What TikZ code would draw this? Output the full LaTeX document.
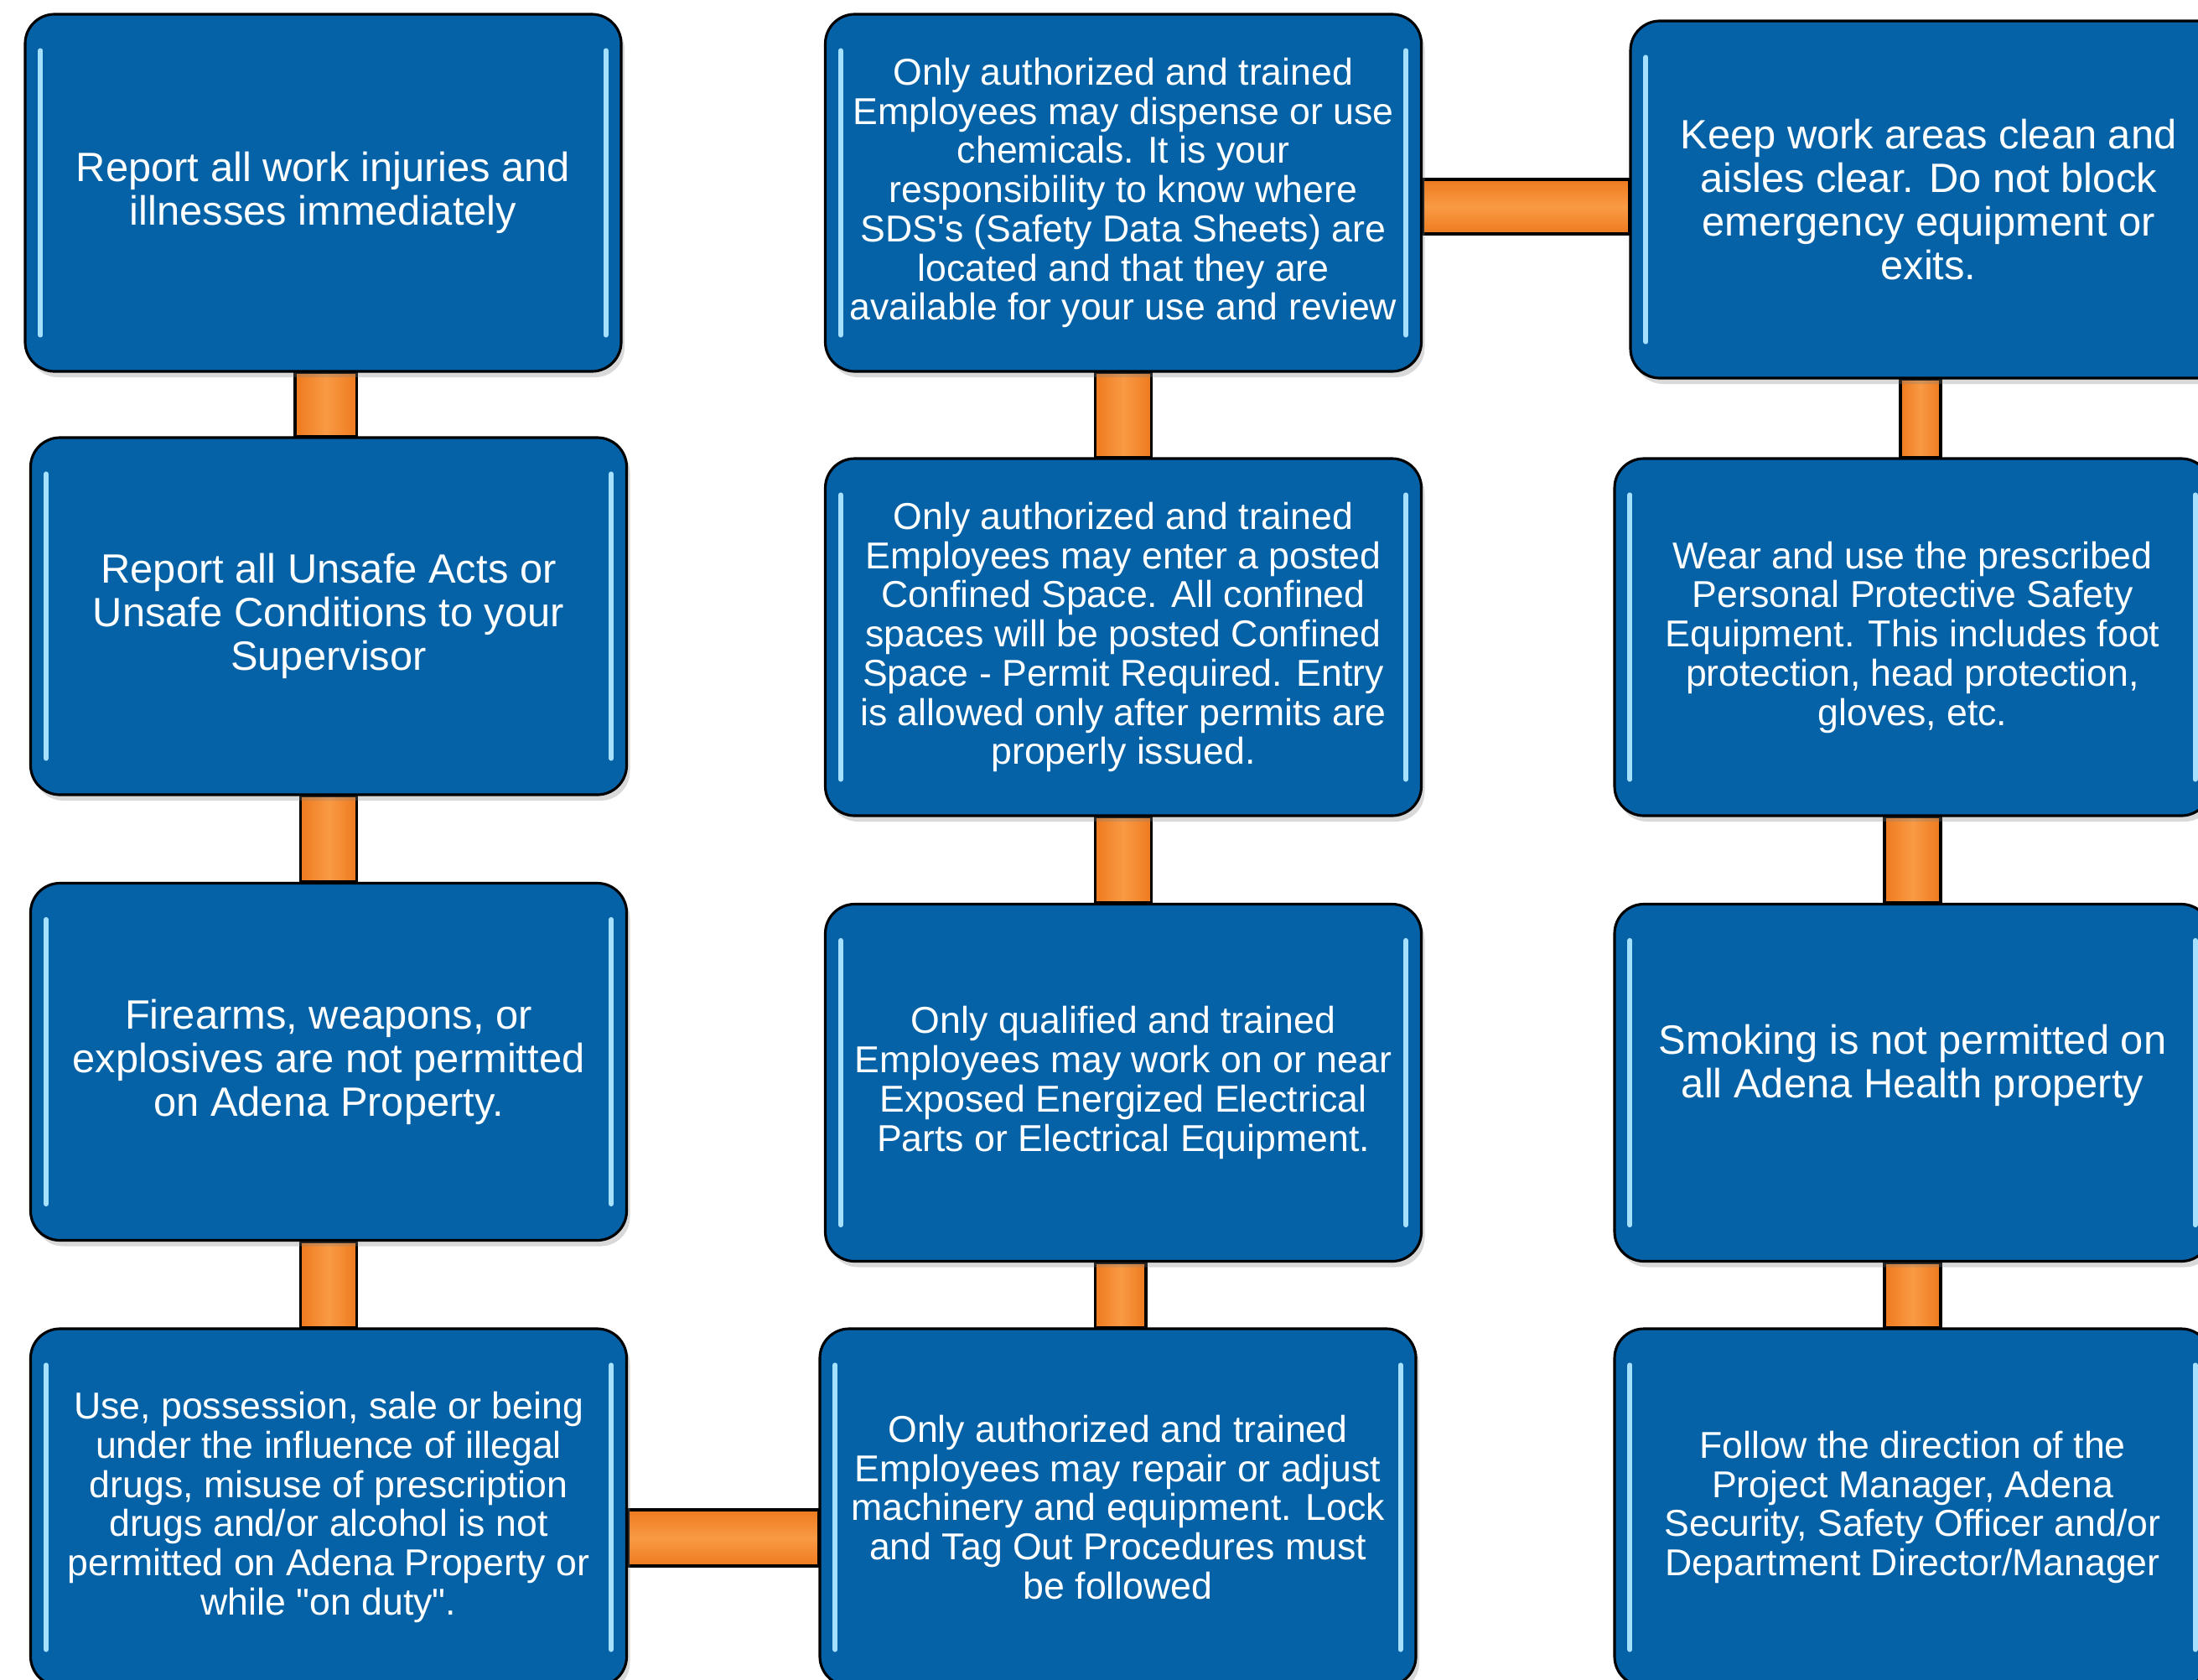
\documentclass[tikz,border=0pt]{standalone}
\usepackage{fontspec}
\setmainfont{Liberation Sans}[Ligatures=TeXOff]
\usepackage{tikz}
\usetikzlibrary{shadows,backgrounds}
\definecolor{ruleblue}{HTML}{0562A7}
\definecolor{barorange}{HTML}{EE7A1E}
\definecolor{barlight}{HTML}{F99A45}
\definecolor{glint}{HTML}{A6E0FF}
\tikzset{
  rulebox/.style={draw=black, line width=0.9pt, fill=ruleblue, rounded corners=0.35cm,
    minimum width=7.11cm, minimum height=4.26cm, inner sep=0pt, align=center, text=white,
    drop shadow={shadow xshift=0.04cm, shadow yshift=-0.07cm, opacity=0.3}},
  bigtext/.style={font=\fontsize{13.9}{14.8}\selectfont},
  smalltext/.style={font=\fontsize{12.7}{13.3}\selectfont},
  vbar/.style={draw=black, line width=0.9pt, left color=barorange, right color=barorange, middle color=barlight},
  hbar/.style={draw=black, line width=0.9pt, top color=barorange, bottom color=barorange, middle color=barlight},
  shine/.style={line width=1.7pt, color=glint, line cap=round}
}
% light strips along the inner side edges
\newcommand{\gloss}[1]{
  \draw[shine] ([xshift=0.2cm,yshift=-0.45cm]#1.north west) -- ([xshift=0.2cm,yshift=0.45cm]#1.south west);
  \draw[shine] ([xshift=-0.2cm,yshift=-0.45cm]#1.north east) -- ([xshift=-0.2cm,yshift=0.45cm]#1.south east);
}

\begin{document}
\begin{tikzpicture}
\useasboundingbox (0,0) rectangle (26.22,-20.03);
\clip (0,0) rectangle (26.22,-20.03);

\node[rulebox,bigtext] (injuries) at (3.855,-2.30)
     {Report all work injuries and\\illnesses immediately};
\node[rulebox,bigtext] (unsafe) at (3.92,-7.35)
     {Report all Unsafe Acts or\\Unsafe Conditions to your\\Supervisor};
\node[rulebox,bigtext] (firearms) at (3.92,-12.665)
     {Firearms, weapons, or\\explosives are not permitted\\on Adena Property.};
\node[rulebox,smalltext] (drugs) at (3.92,-17.98)
     {Use, possession, sale or being\\under the influence of illegal\\drugs, misuse of prescription\\drugs and/or alcohol is not\\permitted on Adena Property or\\while "on duty".};

\node[rulebox,smalltext] (chemicals) at (13.40,-2.30)
     {Only authorized and trained\\Employees may dispense or use\\chemicals. It is your\\responsibility to know where\\SDS's (Safety Data Sheets) are\\located and that they are\\available for your use and review};
\node[rulebox,smalltext] (confined) at (13.40,-7.60)
     {Only authorized and trained\\Employees may enter a posted\\Confined Space. All confined\\spaces will be posted Confined\\Space - Permit Required. Entry\\is allowed only after permits are\\properly issued.};
\node[rulebox,smalltext] (electrical) at (13.40,-12.915)
     {Only qualified and trained\\Employees may work on or near\\Exposed Energized Electrical\\Parts or Electrical Equipment.};
\node[rulebox,smalltext] (machinery) at (13.335,-17.98)
     {Only authorized and trained\\Employees may repair or adjust\\machinery and equipment. Lock\\and Tag Out Procedures must\\be followed};

\node[rulebox,bigtext] (clean) at (23.005,-2.38)
     {Keep work areas clean and\\aisles clear. Do not block\\emergency equipment or\\exits.};
\node[rulebox,smalltext] (ppe) at (22.815,-7.60)
     {Wear and use the prescribed\\Personal Protective Safety\\Equipment. This includes foot\\protection, head protection,\\gloves, etc.};
\node[rulebox,bigtext] (smoking) at (22.815,-12.915)
     {Smoking is not permitted on\\all Adena Health property\\\mbox{}};
\node[rulebox,smalltext] (direction) at (22.815,-17.98)
     {Follow the direction of the\\Project Manager, Adena\\Security, Safety Officer and/or\\Department Director/Manager};

\foreach \b in {injuries,unsafe,firearms,drugs,chemicals,confined,electrical,machinery,clean,ppe,smoking,direction}
  {\gloss{\b}}

% orange links behind the boxes
\begin{scope}[on background layer]
\draw[vbar] ([xshift=-0.335cm]injuries.south) rectangle ([xshift=0.335cm]unsafe.north);
\draw[vbar] ([xshift=-0.335cm]unsafe.south) rectangle ([xshift=0.335cm]firearms.north);
\draw[vbar] ([xshift=-0.335cm]firearms.south) rectangle ([xshift=0.335cm]drugs.north);
\draw[vbar] ([xshift=-0.335cm]chemicals.south) rectangle ([xshift=0.335cm]confined.north);
\draw[vbar] ([xshift=-0.335cm]confined.south) rectangle ([xshift=0.335cm]electrical.north);
\draw[vbar] ([xshift=-0.335cm]electrical.south) rectangle ([xshift=0.335cm]machinery.north);
\draw[vbar] ([xshift=-0.335cm]clean.south) rectangle ([xshift=0.335cm]ppe.north);
\draw[vbar] ([xshift=-0.335cm]ppe.south) rectangle ([xshift=0.335cm]smoking.north);
\draw[vbar] ([xshift=-0.335cm]smoking.south) rectangle ([xshift=0.335cm]direction.north);
\draw[hbar] ([yshift=0.16cm]chemicals.east) rectangle ([yshift=-0.41cm]clean.west);
\draw[hbar] ([yshift=-0.03cm]drugs.east) rectangle ([yshift=-0.70cm]machinery.west);
\end{scope}
\end{tikzpicture}
\end{document}
